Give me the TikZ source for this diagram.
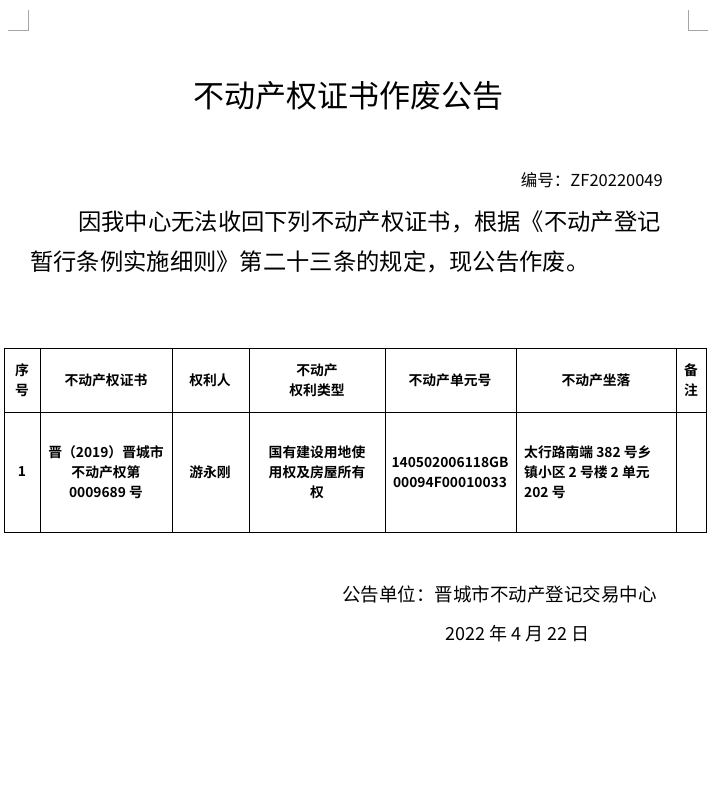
\documentclass[tikz,border=0pt]{standalone}
\usepackage{fontspec}
\setmainfont{Liberation Serif}
\newfontfamily\cjk{Noto Sans CJK SC}
\newfontfamily\cjkb{Noto Sans CJK SC Bold}
\begin{document}
\begin{tikzpicture}[x=1pt,y=-1pt,
  cell/.style={font=\fontsize{13.8}{20}\cjkb, align=center, inner sep=0pt},
  grid/.style={line width=0.8pt}]
\useasboundingbox (0,0) rectangle (724,801);
\fill[white] (0,0) rectangle (724,801);
% corner marks
\draw[gray!70] (28,10) -- (28,30) -- (8,30);
\draw[gray!70] (688,10) -- (688,30) -- (708,30);
\node (title) at (348,96) {\fontsize{31}{34}\cjk 不动产权证书作废公告};
\node[anchor=east, inner sep=0pt] (num) at (663,180) {\fontsize{16.5}{18}\cjk 编号：ZF20220049};
\node[anchor=west, inner sep=0pt] (p1) at (78,222) {\fontsize{23.3}{26}\cjk 因我中心无法收回下列不动产权证书，根据《不动产登记};
\node[anchor=west, inner sep=0pt] (p2) at (30,262) {\fontsize{23.3}{26}\cjk 暂行条例实施细则》第二十三条的规定，现公告作废。};
% table
\draw[grid] (4,348) rectangle (706,532);
\draw[grid] (4,412) -- (706,412);
\foreach \x in {40,172,249,385,516,676} \draw[grid] (\x,348) -- (\x,532);
\node[cell] (h1) at (22,380) {序\\号};
\node[cell] (h2) at (106,380) {不动产权证书};
\node[cell] (h3) at (210,380) {权利人};
\node[cell] (h4) at (317,380) {不动产\\权利类型};
\node[cell] (h5) at (450,380) {不动产单元号};
\node[cell] (h6) at (596,380) {不动产坐落};
\node[cell] (h7) at (691,380) {备\\注};
\node[cell] (c1) at (22,472) {1};
\node[cell] (c2) at (106,472) {晋（2019）晋城市\\不动产权第\\0009689 号};
\node[cell] (c3) at (210,472) {游永刚};
\node[cell] (c4) at (317,472) {国有建设用地使\\用权及房屋所有\\权};
\node[cell] (c5) at (450,472) {140502006118GB\\00094F00010033};
\node[cell, align=left, anchor=west] (c6) at (524,472) {太行路南端 382 号乡\\镇小区 2 号楼 2 单元\\202 号};
\node[anchor=east, inner sep=0pt] (f1) at (657,594) {\fontsize{18.5}{20}\cjk 公告单位：晋城市不动产登记交易中心};
\node[anchor=east, inner sep=0pt] (f2) at (590,634) {\fontsize{18}{20}\cjk 2022 年 4 月 22 日};
\end{tikzpicture}
\end{document}
